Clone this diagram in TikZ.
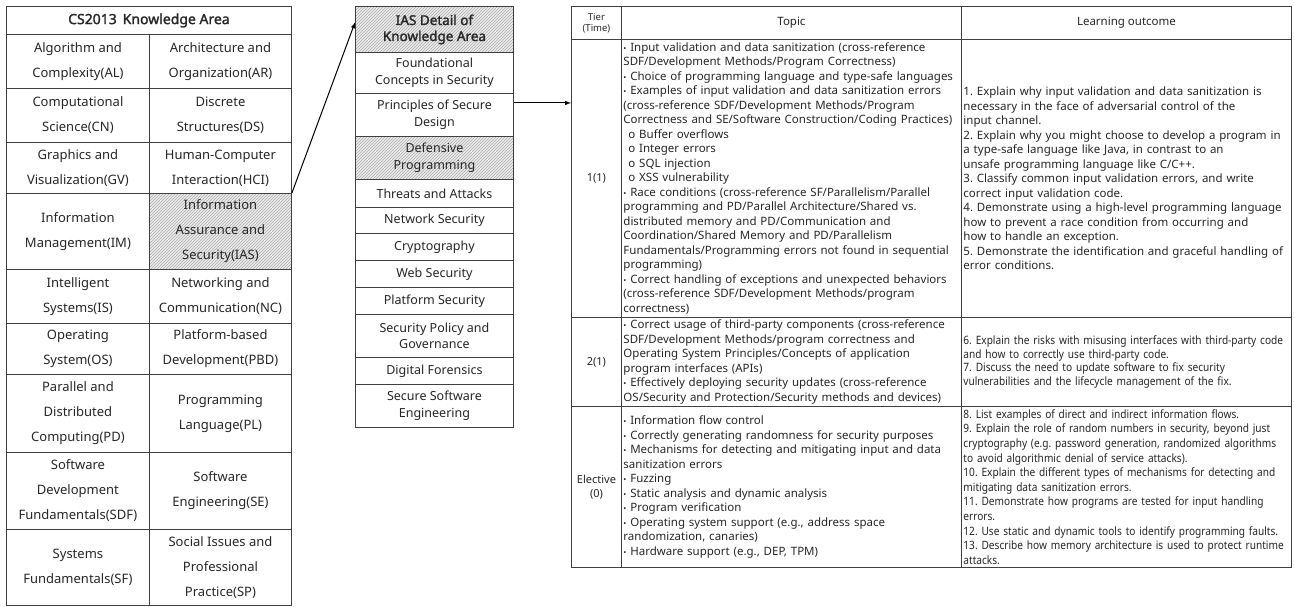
\documentclass[tikz,border=0pt]{standalone}
\usepackage{fontspec}
\setmainfont{Noto Sans}
\newfontfamily\narrowfont[FakeStretch=0.88]{Noto Sans}
\newfontfamily\headfont[FakeBold=1.6]{Noto Sans}
\usetikzlibrary{patterns}
\newcommand\tpdot{{\fontsize{8}{8}\selectfont•}}
\frenchspacing

\begin{document}
\begin{tikzpicture}[x=1pt,y=-1pt,
    cell/.style={draw=black!75, line width=0.9pt, anchor=north west, inner sep=0pt, align=center, text=black!85},
    kacell/.style={cell, font=\fontsize{13}{25}\selectfont},
    iascell/.style={cell, minimum width=158, font=\fontsize{12.5}{16.5}\selectfont},
    hatched/.style={preaction={fill=gray!15}, pattern=north east lines, pattern color=gray!65},
    tiercell/.style={cell, minimum width=50, font=\fontsize{11}{13.5}\selectfont},
    topiccell/.style={cell, align=left, inner xsep=2pt, text width=336, font=\fontsize{11.5}{14.5}\selectfont},
    locell/.style={cell, align=left, inner xsep=2pt, text width=326, font=\fontsize{11.5}{14.5}\selectfont},
    link/.style={->, >=latex, line width=1pt}]
    \useasboundingbox (0,0) rectangle (1294,606);

    \node[cell, minimum width=285, minimum height=28, font=\headfont\fontsize{14}{16}\selectfont] (kahd) at (6,6) {CS2013\, Knowledge Area};
    \node[kacell, minimum width=143, minimum height=54] (al) at (6,34) {Algorithm and\\Complexity(AL)};
    \node[kacell, minimum width=142, minimum height=54] (ar) at (149,34) {Architecture and\\Organization(AR)};
    \node[kacell, minimum width=143, minimum height=54] (cn) at (6,88) {Computational\\Science(CN)};
    \node[kacell, minimum width=142, minimum height=54] (ds) at (149,88) {Discrete\\Structures(DS)};
    \node[kacell, minimum width=143, minimum height=51] (gv) at (6,142) {Graphics and\\Visualization(GV)};
    \node[kacell, minimum width=142, minimum height=51] (hci) at (149,142) {Human-Computer\\Interaction(HCI)};
    \node[kacell, minimum width=143, minimum height=76] (im) at (6,193) {Information\\Management(IM)};
    \node[kacell, hatched, minimum width=142, minimum height=76] (ias) at (149,193) {Information\\Assurance and\\Security(IAS)};
    \node[kacell, minimum width=143, minimum height=54] (is) at (6,269) {Intelligent\\Systems(IS)};
    \node[kacell, minimum width=142, minimum height=54] (nc) at (149,269) {Networking and\\Communication(NC)};
    \node[kacell, minimum width=143, minimum height=51] (os) at (6,323) {Operating\\System(OS)};
    \node[kacell, minimum width=142, minimum height=51] (pbd) at (149,323) {Platform-based\\Development(PBD)};
    \node[kacell, minimum width=143, minimum height=78] (pd) at (6,374) {Parallel and\\Distributed\\Computing(PD)};
    \node[kacell, minimum width=142, minimum height=78] (pl) at (149,374) {Programming\\Language(PL)};
    \node[kacell, minimum width=143, minimum height=77] (sdf) at (6,452) {Software\\Development\\Fundamentals(SDF)};
    \node[kacell, minimum width=142, minimum height=77] (se) at (149,452) {Software\\Engineering(SE)};
    \node[kacell, minimum width=143, minimum height=76] (sf) at (6,529) {Systems\\Fundamentals(SF)};
    \node[kacell, minimum width=142, minimum height=76] (sp) at (149,529) {Social Issues and\\Professional\\Practice(SP)};

    \node[iascell, hatched, minimum height=46, font=\headfont\fontsize{13.5}{16}\selectfont] (iashd) at (355,6) {IAS Detail of\\Knowledge Area};
    \node[iascell, minimum height=41] (fcs) at (355,52) {Foundational\\Concepts in Security};
    \node[iascell, minimum height=43] (psd) at (355,93) {Principles of Secure\\Design};
    \node[iascell, hatched, minimum height=43] (dfp) at (355,136) {Defensive\\Programming};
    \node[iascell, minimum height=28] (tat) at (355,179) {Threats and Attacks};
    \node[iascell, minimum height=26] (nws) at (355,207) {Network Security};
    \node[iascell, minimum height=27] (cry) at (355,233) {Cryptography};
    \node[iascell, minimum height=27] (wbs) at (355,260) {Web Security};
    \node[iascell, minimum height=27] (pfs) at (355,287) {Platform Security};
    \node[iascell, minimum height=43] (spg) at (355,314) {Security Policy and\\Governance};
    \node[iascell, minimum height=27] (dgf) at (355,357) {Digital Forensics};
    \node[iascell, minimum height=43] (ssw) at (355,384) {Secure Software\\Engineering};

    \node[tiercell, minimum height=33, font=\fontsize{9.5}{11}\selectfont] (tierhd) at (571,6) {Tier\\(Time)};
    \node[cell, minimum width=340, minimum height=33, font=\fontsize{11.5}{13}\selectfont] (topichd) at (621,6) {Topic};
    \node[cell, minimum width=330, minimum height=33, font=\fontsize{11.5}{13}\selectfont] (lohd) at (961,6) {Learning outcome};

    \node[tiercell, minimum height=278] (t1) at (571,39) {1(1)};
    \node[topiccell, minimum height=278] (tp1) at (621,39) {\tpdot{} Input validation and data sanitization (cross-reference\\
SDF/Development Methods/Program Correctness)\\
\tpdot{} Choice of programming language and type-safe languages\\
\tpdot{} Examples of input validation and data sanitization errors\\
(cross-reference SDF/Development Methods/Program\\
Correctness and SE/Software Construction/Coding Practices)\\
\hspace{5pt}o Buffer overflows\\
\hspace{5pt}o Integer errors\\
\hspace{5pt}o SQL injection\\
\hspace{5pt}o XSS vulnerability\\
\tpdot{} Race conditions (cross-reference SF/Parallelism/Parallel\\
programming and PD/Parallel Architecture/Shared vs.\\
distributed memory and PD/Communication and\\
Coordination/Shared Memory and PD/Parallelism\\
Fundamentals/Programming errors not found in sequential\\
programming)\\
\tpdot{} Correct handling of exceptions and unexpected behaviors\\
(cross-reference SDF/Development Methods/program\\
correctness)};
    \node[locell, minimum height=278] (lo1) at (961,39) {1. Explain why input validation and data sanitization is\\
necessary in the face of adversarial control of the\\
input channel.\\
2. Explain why you might choose to develop a program in\\
a type-safe language like Java, in contrast to an\\
unsafe programming language like C/C++.\\
3. Classify common input validation errors, and write\\
correct input validation code.\\
4. Demonstrate using a high-level programming language\\
how to prevent a race condition from occurring and\\
how to handle an exception.\\
5. Demonstrate the identification and graceful handling of\\
error conditions.};

    \node[tiercell, minimum height=89] (t2) at (571,317) {2(1)};
    \node[topiccell, minimum height=89] (tp2) at (621,317) {\tpdot{} Correct usage of third-party components (cross-reference\\
SDF/Development Methods/program correctness and\\
Operating System Principles/Concepts of application\\
program interfaces (APIs)\\
\tpdot{} Effectively deploying security updates (cross-reference\\
OS/Security and Protection/Security methods and devices)};
    \node[locell, minimum height=89, font=\narrowfont\fontsize{11.5}{13.8}\selectfont] (lo2) at (961,317) {6. Explain the risks with misusing interfaces with third-party code\\
and how to correctly use third-party code.\\
7. Discuss the need to update software to fix security\\
vulnerabilities and the lifecycle management of the fix.};

    \node[tiercell, minimum height=161] (t3) at (571,406) {Elective\\(0)};
    \node[topiccell, minimum height=161] (tp3) at (621,406) {\tpdot{} Information flow control\\
\tpdot{} Correctly generating randomness for security purposes\\
\tpdot{} Mechanisms for detecting and mitigating input and data\\
sanitization errors\\
\tpdot{} Fuzzing\\
\tpdot{} Static analysis and dynamic analysis\\
\tpdot{} Program verification\\
\tpdot{} Operating system support (e.g., address space\\
randomization, canaries)\\
\tpdot{} Hardware support (e.g., DEP, TPM)};
    \node[locell, minimum height=161, font=\narrowfont\fontsize{11.5}{14.6}\selectfont] (lo3) at (961,406) {8. List examples of direct and indirect information flows.\\
9. Explain the role of random numbers in security, beyond just\\
cryptography (e.g. password generation, randomized algorithms\\
to avoid algorithmic denial of service attacks).\\
10. Explain the different types of mechanisms for detecting and\\
mitigating data sanitization errors.\\
11. Demonstrate how programs are tested for input handling\\
errors.\\
12. Use static and dynamic tools to identify programming faults.\\
13. Describe how memory architecture is used to protect runtime\\
attacks.};

    \draw[link] (ias.north east) -- ([yshift=7pt]iashd.west);
    \draw[link] ([yshift=12pt]psd.east) -- ([yshift=12pt]psd.east -| t1.west);
\end{tikzpicture}
\end{document}
